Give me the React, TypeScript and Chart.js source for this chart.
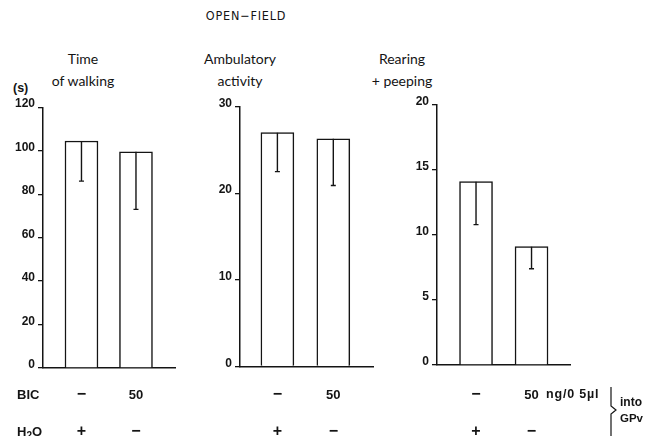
import React, { useEffect, useRef } from 'react';
import { Chart, registerables } from 'chart.js';

Chart.register(...registerables);

// ---------------- data ----------------
const groups = ['H2O', 'BIC 50'];
const bicRow = ['\u2212', '50'];
const waterRow = ['+', '\u2212'];
const doseUnit = ' ng/0 5\u00b5l';

const walkingMeans = [104.5, 99.5];
const walkingLower = [86, 73];
const ambulatoryMeans = [27.0, 26.3];
const ambulatoryLower = [22.5, 20.9];
const rearingMeans = [14.1, 9.1];
const rearingLower = [10.8, 7.4];

const walkingTicks = [0, 20, 40, 60, 80, 100, 120];
const ambulatoryTicks = [0, 10, 20, 30];
const rearingTicks = [0, 5, 10, 15, 20];

const walkingTitle = ['Time', 'of walking'];
const ambulatoryTitle = ['Ambulatory', 'activity'];
const rearingTitle = ['Rearing', '+ peeping'];

// ---------------- styling / layout ----------------
const INK = '#141414';
const H = 436;
const LABEL_FONT = '"Liberation Sans", Arial, Helvetica, sans-serif';

type PanelCfg = {
  left: number; width: number; axisX: number; right: number; top: number; bottom: number;
  xMin: number; xMax: number; means: number[]; lower: number[]; ticks: number[];
  suffix?: string;
};

const panels: PanelCfg[] = [
  { left: 0, width: 200, axisX: 43, right: 175, top: 107.3, bottom: 368, xMin: 0.294, xMax: 2.716,
    means: walkingMeans, lower: walkingLower, ticks: walkingTicks },
  { left: 190, width: 200, axisX: 50, right: 183, top: 106.7, bottom: 366.5, xMin: 0.331, xMax: 2.71,
    means: ambulatoryMeans, lower: ambulatoryLower, ticks: ambulatoryTicks },
  { left: 390, width: 230, axisX: 47, right: 180, top: 105, bottom: 365, xMin: 0.297, xMax: 2.693,
    means: rearingMeans, lower: rearingLower, ticks: rearingTicks, suffix: doseUnit },
];

const glyphFont = (s: string) => (s === '50' ? `bold 13px ${LABEL_FONT}` : `bold 16px ${LABEL_FONT}`);

const annotate = {
  id: 'annotate',
  afterDatasetsDraw(chart: any, _a: any, o: any) {
    const ctx = chart.ctx;
    const ys = chart.scales.y;
    const meta = chart.getDatasetMeta(0);
    ctx.save();
    ctx.strokeStyle = INK;
    ctx.lineWidth = 1.4;
    meta.data.forEach((el: any, i: number) => {
      const top = ys.getPixelForValue(o.means[i]);
      const low = ys.getPixelForValue(o.lower[i]);
      ctx.beginPath();
      ctx.moveTo(el.x, top);
      ctx.lineTo(el.x, low);
      ctx.moveTo(el.x - 2.5, low);
      ctx.lineTo(el.x + 2.5, low);
      ctx.stroke();
    });
    ctx.restore();
  },
  afterDraw(chart: any, _a: any, o: any) {
    const ctx = chart.ctx;
    const meta = chart.getDatasetMeta(0);
    ctx.save();
    ctx.fillStyle = INK;
    ctx.textBaseline = 'middle';
    meta.data.forEach((el: any, i: number) => {
      const r1 = bicRow[i];
      ctx.font = glyphFont(r1);
      if (o.suffix && i === 1) {
        const w = ctx.measureText(r1).width;
        ctx.textAlign = 'left';
        ctx.fillText(r1, el.x - w / 2, 395);
        ctx.font = `bold 12.5px ${LABEL_FONT}`;
        (ctx as any).letterSpacing = '0.8px';
        ctx.fillText(o.suffix, el.x + w / 2 + 3, 395);
        (ctx as any).letterSpacing = '0px';
      } else {
        ctx.textAlign = 'center';
        ctx.fillText(r1, el.x, 395);
      }
      ctx.textAlign = 'center';
      ctx.font = glyphFont(waterRow[i]);
      ctx.fillText(waterRow[i], el.x, 432);
    });
    ctx.restore();
  },
};

function Panel({ cfg }: { cfg: PanelCfg }) {
  const ref = useRef<HTMLCanvasElement | null>(null);
  useEffect(() => {
    if (!ref.current) return;
    const yMax = cfg.ticks[cfg.ticks.length - 1];
    const chart = new Chart(ref.current, {
      type: 'bar',
      data: {
        labels: groups,
        datasets: [{
          data: cfg.means.map((v, i) => ({ x: i + 1, y: v })) as any,
          backgroundColor: '#ffffff',
          borderColor: INK,
          borderWidth: 1.5,
          barThickness: 33,
        }],
      },
      plugins: [annotate as any],
      options: {
        responsive: false,
        animation: false,
        devicePixelRatio: 1,
        layout: { padding: { left: 0, top: cfg.top, right: cfg.width - cfg.right, bottom: H - cfg.bottom } },
        plugins: {
          legend: { display: false },
          tooltip: { enabled: false },
          annotate: { means: cfg.means, lower: cfg.lower, suffix: cfg.suffix },
        } as any,
        scales: {
          x: {
            type: 'linear',
            min: cfg.xMin,
            max: cfg.xMax,
            offset: false,
            z: 1,
            grid: { display: false },
            ticks: { display: false },
            border: { display: true, color: INK, width: 1.5 },
            afterFit: (s: any) => { s.height = 0; },
          },
          y: {
            min: 0,
            max: yMax,
            afterBuildTicks: (s: any) => { s.ticks = cfg.ticks.map((v) => ({ value: v })); },
            ticks: {
              color: INK,
              padding: 3,
              font: { family: LABEL_FONT, size: 12, weight: 'bold', lineHeight: 0.55 },
              callback: (v: any) => [String(v), ''],
            },
            grid: { display: true, drawOnChartArea: false, drawTicks: true, tickLength: 5, color: INK, lineWidth: 1.3 },
            border: { display: true, color: INK, width: 1.5 },
            afterFit: (s: any) => { s.width = cfg.axisX; },
          },
        } as any,
      },
    });
    return () => chart.destroy();
  }, [cfg]);
  return (
    <canvas
      ref={ref}
      width={cfg.width}
      height={H}
      style={{ position: 'absolute', left: cfg.left, top: 0, width: cfg.width, height: H }}
    />
  );
}

const titleStyle = (cx: number): React.CSSProperties => ({
  position: 'absolute', left: cx - 100, width: 200, top: 48, textAlign: 'center',
  fontFamily: 'Lato, "Open Sans", sans-serif', fontSize: 14, lineHeight: '22px', color: INK,
  whiteSpace: 'nowrap',
});

const boldLabel: React.CSSProperties = {
  position: 'absolute', fontFamily: LABEL_FONT, fontWeight: 'bold', fontSize: 12.5, color: INK,
  lineHeight: '14px', whiteSpace: 'nowrap',
};

export default function App() {
  return (
    <div style={{ position: 'fixed', left: 0, top: 0, width: 655, height: H, background: '#fff', overflow: 'hidden' }}>
      <div style={{ position: 'absolute', left: 146, width: 200, top: 8, textAlign: 'center',
        fontFamily: '"Liberation Sans Narrow", "DejaVu Sans Condensed", sans-serif', fontSize: 12.5,
        letterSpacing: 0.8, color: INK, lineHeight: '16px' }}>OPEN{'\u2212'}FIELD</div>

      <div style={titleStyle(83)}>{walkingTitle[0]}<br />{walkingTitle[1]}</div>
      <div style={titleStyle(240)}>{ambulatoryTitle[0]}<br />{ambulatoryTitle[1]}</div>
      <div style={titleStyle(402)}>{rearingTitle[0]}<br />{rearingTitle[1]}</div>

      <div style={{ ...boldLabel, left: 13, top: 81 }}>(s)</div>

      {panels.map((p, i) => <Panel key={i} cfg={p} />)}

      <div style={{ ...boldLabel, left: 17, top: 388, fontSize: 13 }}>BIC</div>
      <div style={{ ...boldLabel, left: 17, top: 425, fontSize: 13 }}>H<span style={{ fontSize: 10, position: 'relative', top: 3 }}>2</span>O</div>

      <svg width={655} height={H} style={{ position: 'absolute', left: 0, top: 0 }}>
        <path d="M611 387 L611 406 L616 410 L611 414 L611 436" fill="none" stroke={INK} strokeWidth={1.2} />
      </svg>
      <div style={{ ...boldLabel, left: 620, top: 395, fontSize: 12 }}>into</div>
      <div style={{ ...boldLabel, left: 620, top: 411, fontSize: 11.5 }}>GPv</div>
    </div>
  );
}
